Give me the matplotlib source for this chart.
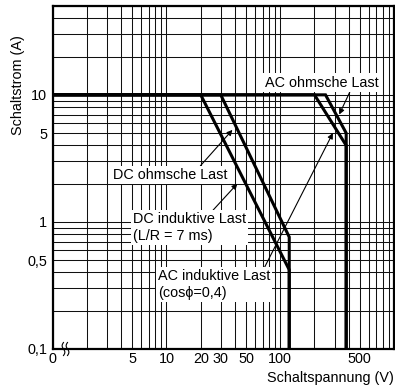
import numpy as np
import matplotlib.pyplot as plt
from matplotlib.ticker import NullFormatter

plt.rcParams['font.family'] = ['Liberation Sans', 'DejaVu Sans']

# ================================= Daten =================================
# Kennlinien (Spannung in V, Strom in A) - 1 V entspricht der "0" der Achse
dc_ohm_v = [1, 30, 120, 120]
dc_ohm_a = [10, 10, 0.76, 0.1]
dc_ind_v = [1, 20, 120, 120]
dc_ind_a = [10, 10, 0.42, 0.1]
ac_ohm_v = [1, 250, 380, 380]
ac_ohm_a = [10, 10, 5, 0.1]
ac_ind_v = [1, 200, 380, 380]
ac_ind_a = [10, 10, 4, 0.1]

x_ticks = [1, 5, 10, 20, 30, 50, 100, 500]
x_tick_labels = ['0', '5', '10', '20', '30', '50', '100', '500']
y_ticks = [0.1, 0.5, 1, 5, 10]
y_tick_labels = ['0,1', '0,5', '1', '5', '10']

# Gitterlinien (logarithmisch)
x_grid = [k * 10 ** e for e in range(3) for k in range(1, 10)] + [1000]
y_grid = [k * 10 ** e for e in range(-1, 2) for k in range(1, 10)]
y_grid = [v for v in y_grid if v <= 50]

fs = 10.4

# ================================= Grafik =================================
fig = plt.figure(figsize=(3.95, 3.9), dpi=100)
ax = fig.add_axes([52.7 / 395, 1 - 349 / 390, (394 - 52.7) / 395, (349 - 6) / 390])

ax.set_xscale('log')
ax.set_yscale('log')
ax.set_xlim(1, 1000)
ax.set_ylim(0.1, 50)

ax.set_xticks(x_grid, minor=True)
ax.set_yticks(y_grid, minor=True)
ax.set_xticks(x_ticks, x_tick_labels)
ax.set_yticks(y_ticks, y_tick_labels)
ax.xaxis.set_minor_formatter(NullFormatter())
ax.yaxis.set_minor_formatter(NullFormatter())
ax.tick_params(which='both', length=0, labelsize=fs)
ax.tick_params(axis='x', pad=2.5)
ax.tick_params(axis='y', pad=4)
ax.grid(which='both', color='#111111', lw=0.75)
ax.set_axisbelow(True)

for s in ax.spines.values():
    s.set_linewidth(1.6)

for v, a in [(dc_ohm_v, dc_ohm_a), (dc_ind_v, dc_ind_a),
             (ac_ohm_v, ac_ohm_a), (ac_ind_v, ac_ind_a)]:
    ax.plot(v, a, color='black', lw=2.2, solid_joinstyle='miter', zorder=5)

box = dict(boxstyle='square,pad=0.15', fc='white', ec='none')

def pfeil(rel):
    return dict(arrowstyle='-|>', color='black', lw=0.8, mutation_scale=8,
                shrinkA=0, shrinkB=0, relpos=rel)

ax.annotate('DC ohmsche Last', xy=(38, 5.3), xytext=(10.7, 2.34),
            ha='center', va='center', fontsize=fs, bbox=box,
            arrowprops=pfeil((0.75, 1)), zorder=4)
ax.annotate('DC induktive Last\n(L/R = 7 ms)', xy=(42, 2.0), xytext=(5.08, 1.19),
            ha='left', va='top', fontsize=fs, bbox=box,
            arrowprops=pfeil((0.69, 1)), zorder=4)
ax.annotate('AC induktive Last\n(cos\u03d5=0,4)', xy=(290, 5.0), xytext=(8.4, 0.423),
            ha='left', va='top', fontsize=fs, bbox=box,
            arrowprops=pfeil((0.94, 1)), zorder=4)
ax.annotate('AC ohmsche Last', xy=(330, 7.0), xytext=(230, 12.5),
            ha='center', va='center', fontsize=fs, bbox=box,
            arrowprops=pfeil((0.76, 0)), zorder=4)

# Achsenbruch
t = np.linspace(0, 1, 30)
for x0 in (0.0316, 0.0434):
    ax.plot(x0 + 0.004 * np.sin(2 * np.pi * t), -0.019 + 0.038 * t,
            transform=ax.transAxes, color='black', lw=0.8, clip_on=False, zorder=6)

fig.text(18 / 395, 1 - 85 / 390, 'Schaltstrom (A)', rotation=90,
         ha='center', va='center', fontsize=fs)
fig.text(394 / 395, 1 - 378 / 390, 'Schaltspannung (V)',
         ha='right', va='center', fontsize=fs)

fig.savefig('out.png', dpi=100)
